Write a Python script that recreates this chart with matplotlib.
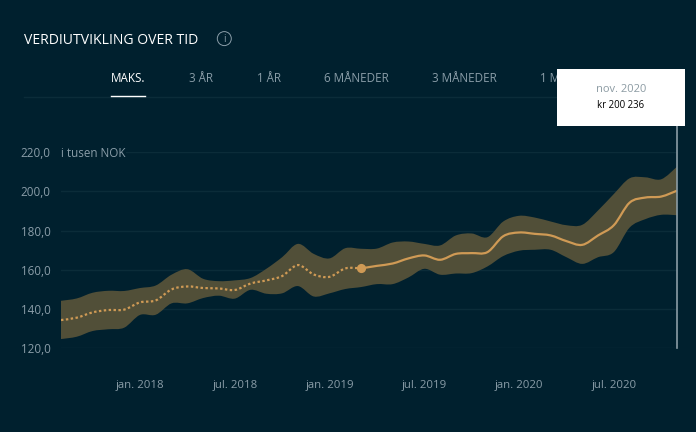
import numpy as np
import matplotlib
matplotlib.use("Agg")
import matplotlib.pyplot as plt
from matplotlib.path import Path
from matplotlib.patches import PathPatch, Rectangle, Ellipse

W, H = 696, 432
BG = "#00202e"
GRID = "#0b2c39"
BAND = "#514f38"
LINE = "#cf9a55"
MUTED = "#8a9da8"

# monthly values, aug. 2017 - nov. 2020 (thousand NOK)
mid = [134.4, 135.6, 138.3, 139.5, 139.7, 143.4, 144.4, 150.0, 151.5, 150.7,
       150.5, 149.7, 153.0, 154.6, 156.8, 162.4, 157.6, 156.4, 160.7, 160.7,
       162.0, 163.2, 165.8, 167.3, 165.1, 168.1, 168.5, 169.0, 177.1, 179.0,
       178.3, 177.5, 174.6, 172.7, 177.5, 182.7, 194.2, 196.8, 197.3, 200.3]
upper = [144.2, 145.4, 148.3, 149.3, 149.2, 150.7, 152.0, 157.5, 160.3, 155.4,
         154.2, 154.6, 155.8, 160.5, 166.4, 173.2, 168.1, 165.8, 171.0, 170.7,
         170.8, 173.9, 174.4, 173.2, 172.4, 177.5, 178.5, 176.6, 184.6, 187.5,
         186.6, 184.6, 182.7, 182.9, 190.2, 198.6, 206.6, 207.1, 206.1, 212.5]
lower = [124.7, 125.9, 128.8, 129.7, 130.5, 137.0, 137.1, 142.9, 142.9, 145.6,
         146.8, 145.3, 149.8, 147.8, 148.0, 151.7, 146.4, 148.0, 150.2, 151.2,
         152.7, 152.7, 156.1, 160.5, 157.5, 158.1, 158.3, 161.7, 167.0, 169.7,
         170.2, 170.2, 166.4, 163.0, 166.4, 169.0, 181.5, 185.8, 188.0, 187.8]
today = 19  # last month of the dotted part

yticks = [120, 140, 160, 180, 200, 220]
xtick_pos = [5, 11, 17, 23, 29, 35]
xtick_labels = ["jan. 2018", "jul. 2018", "jan. 2019", "jul. 2019", "jan. 2020", "jul. 2020"]
tabs = ["MAKS.", "3 ÅR", "1 ÅR", "6 MÅNEDER", "3 MÅNEDER", "1 MÅNED"]
tab_x = [111, 189, 257, 324, 432, 540]

plt.rcParams["font.family"] = ["Open Sans", "DejaVu Sans"]


def spline_verts(x, y):
    # bezier segments through the points, like the chart's spline
    x = np.asarray(x, float)
    y = np.asarray(y, float)
    verts = []
    for i in range(len(x) - 1):
        i0, i3 = max(i - 1, 0), min(i + 2, len(x) - 1)
        verts.append((x[i] + (x[i + 1] - x[i0]) / 6, y[i] + (y[i + 1] - y[i0]) / 6))
        verts.append((x[i + 1] - (x[i3] - x[i]) / 6, y[i + 1] - (y[i3] - y[i]) / 6))
        verts.append((x[i + 1], y[i + 1]))
    return verts


def spline_line(x, y):
    verts = [(x[0], y[0])] + spline_verts(x, y)
    return Path(verts, [Path.MOVETO] + [Path.CURVE4] * (len(verts) - 1))


def px(x, y):
    return x / W, 1 - y / H


fig = plt.figure(figsize=(W / 100, H / 100), dpi=100, facecolor=BG)
ax = fig.add_axes([61 / W, (H - 348.3) / H, 616 / W, 196.3 / H], facecolor=BG)
ax.set_xlim(0, 39)
ax.set_ylim(120, 220)
for s in ax.spines.values():
    s.set_visible(False)

months = np.arange(len(mid))
ax.set_yticks(yticks)
ax.set_yticklabels(["%d,0" % v for v in yticks], fontsize=8.4, color=MUTED)
ax.set_xticks(xtick_pos)
ax.set_xticklabels(xtick_labels, fontsize=8.2, color=MUTED)
ax.tick_params(axis="y", length=0, pad=7.6)
ax.tick_params(axis="x", length=0, pad=23)
ax.grid(axis="y", color=GRID, lw=1)
ax.set_axisbelow(True)

# confidence band
band_verts = [(0, upper[0])] + spline_verts(months, upper)
band_verts.append((months[-1], lower[-1]))
band_verts += spline_verts(months[::-1], lower[::-1])
band_verts.append((0, upper[0]))
band_codes = [Path.MOVETO] + [Path.CURVE4] * (3 * (len(mid) - 1)) + [Path.LINETO]
band_codes += [Path.CURVE4] * (3 * (len(mid) - 1)) + [Path.CLOSEPOLY]
ax.add_patch(PathPatch(Path(band_verts, band_codes), fc=BAND, ec="none", zorder=2))

ax.add_patch(PathPatch(spline_line(months[:today + 1], mid[:today + 1]), fc="none", ec=LINE,
                       lw=1.6, ls=(0, (1.1, 1.1)), zorder=3))
ax.add_patch(PathPatch(spline_line(months[today:], mid[today:]), fc="none", ec=LINE, lw=1.6, zorder=3))
ax.plot(months[today], mid[today], "o", ms=6.6, color=LINE, mec="none", zorder=4, clip_on=False)

ax.plot([39, 39], [120, 220 + 26 * 0.51 * 2], color="#8b9ca5", lw=1.2, zorder=5, clip_on=False)
ax.annotate("i tusen NOK", (0, 220), xytext=(0, -1.2), textcoords="offset points", fontsize=8.4,
            color=MUTED, va="center", ha="left", zorder=4, bbox=dict(fc=BG, ec="none", pad=0.5))

# header
fig.text(*px(24, 40), "VERDIUTVIKLING OVER TID", fontsize=10.1, color="white", va="center", ha="left")
fig.add_artist(Ellipse(px(224.3, 38.6), 14 / W, 14 / H, transform=fig.transFigure, fc="none", ec=MUTED, lw=0.7))
fig.text(*px(224.3, 39), "i", fontsize=7, color=MUTED, va="center", ha="center")

# tabs
for i, (label, x) in enumerate(zip(tabs, tab_x)):
    fig.text(*px(x, 79), label, fontsize=8.4, color="white" if i == 0 else MUTED, va="center", ha="left")
fig.add_artist(plt.Line2D([24 / W, 672 / W], [1 - 96.5 / H] * 2, color=GRID, lw=1))
fig.add_artist(plt.Line2D([111 / W, 145 / W], [1 - 95.5 / H] * 2, color="white", lw=1))

# tooltip on top of the tabs
x0, y0 = px(557, 126)
fig.add_artist(Rectangle((x0, y0), 128 / W, 57 / H, transform=fig.transFigure, fc="white", ec="none", zorder=6))
fig.text(*px(621, 89), "nov. 2020", fontsize=8, color="#8c9ba3", va="center", ha="center", zorder=7)
fig.text(*px(621, 105), "kr 200 236", fontsize=6.9, color="black", va="center", ha="center", zorder=7)

fig.savefig("out.png", dpi=100, facecolor=BG)
